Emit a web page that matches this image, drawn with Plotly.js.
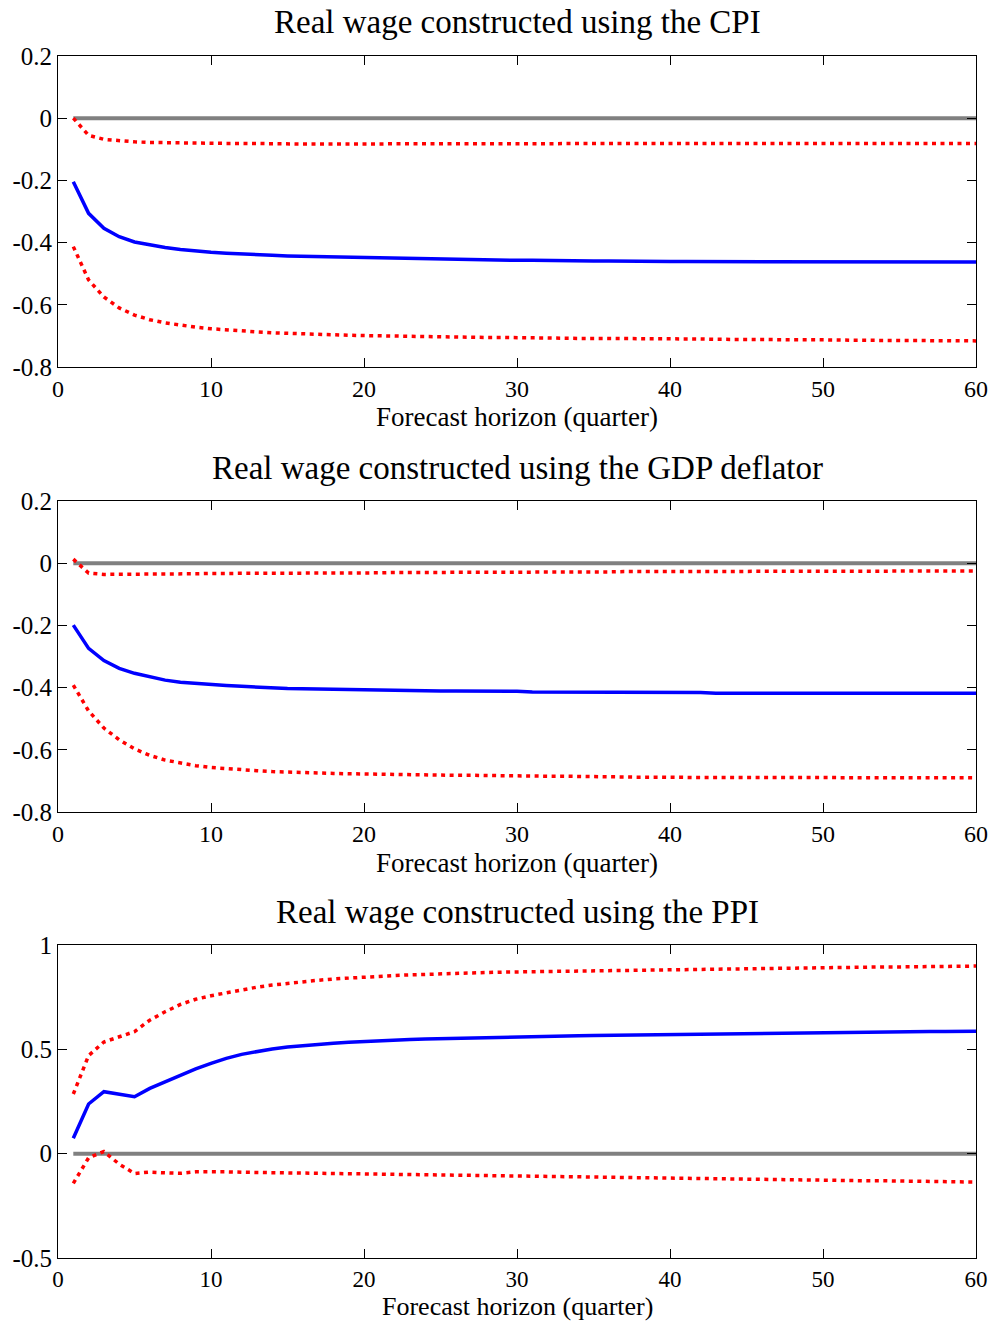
<!DOCTYPE html>
<html><head><meta charset="utf-8">
<script src="https://cdn.plot.ly/plotly-3.0.1.min.js"></script>
<style>html,body{margin:0;padding:0;background:#fff}#chart{width:996px;height:1321px}</style>
</head><body><div id="chart"></div>
<script>
const horizon = [1,2,3,4,5,6,7,8,9,10,11,12,13,14,15,16,17,18,19,20,21,22,23,24,25,26,27,28,29,30,31,32,33,34,35,36,37,38,39,40,41,42,43,44,45,46,47,48,49,50,51,52,53,54,55,56,57,58,59,60];

const titles = ["Real wage constructed using the CPI","Real wage constructed using the GDP deflator","Real wage constructed using the PPI"];
const xTitle = "Forecast horizon (quarter)";

const cpiMid = [-0.204,-0.306,-0.354,-0.381,-0.398,-0.408,-0.416,-0.422,-0.427,-0.431,-0.434,-0.437,-0.439,-0.441,-0.443,-0.444,-0.446,-0.447,-0.448,-0.449,-0.450,-0.451,-0.452,-0.453,-0.453,-0.454,-0.455,-0.456,-0.456,-0.457,-0.457,-0.458,-0.458,-0.459,-0.459,-0.459,-0.460,-0.460,-0.460,-0.461,-0.461,-0.461,-0.461,-0.461,-0.462,-0.462,-0.462,-0.462,-0.462,-0.462,-0.462,-0.462,-0.462,-0.462,-0.462,-0.462,-0.462,-0.462,-0.462,-0.462];
const cpiUp = [0.000,-0.055,-0.068,-0.073,-0.076,-0.078,-0.079,-0.080,-0.080,-0.081,-0.081,-0.081,-0.082,-0.082,-0.082,-0.083,-0.083,-0.084,-0.083,-0.083,-0.082,-0.082,-0.082,-0.082,-0.082,-0.082,-0.082,-0.082,-0.082,-0.082,-0.082,-0.082,-0.082,-0.082,-0.082,-0.082,-0.082,-0.082,-0.082,-0.082,-0.082,-0.082,-0.082,-0.082,-0.082,-0.082,-0.082,-0.082,-0.082,-0.082,-0.082,-0.082,-0.082,-0.082,-0.082,-0.081,-0.081,-0.081,-0.081,-0.081];
const cpiLo = [-0.413,-0.520,-0.575,-0.610,-0.633,-0.648,-0.658,-0.666,-0.672,-0.677,-0.681,-0.684,-0.687,-0.690,-0.692,-0.694,-0.695,-0.697,-0.698,-0.699,-0.700,-0.701,-0.702,-0.702,-0.703,-0.703,-0.704,-0.705,-0.705,-0.706,-0.706,-0.707,-0.707,-0.708,-0.708,-0.708,-0.709,-0.709,-0.709,-0.710,-0.710,-0.710,-0.711,-0.711,-0.711,-0.712,-0.712,-0.712,-0.713,-0.713,-0.713,-0.714,-0.714,-0.714,-0.715,-0.715,-0.715,-0.716,-0.716,-0.716];

const gdpMid = [-0.199,-0.274,-0.313,-0.338,-0.354,-0.366,-0.376,-0.383,-0.387,-0.390,-0.393,-0.396,-0.399,-0.401,-0.403,-0.404,-0.405,-0.406,-0.407,-0.408,-0.409,-0.409,-0.410,-0.410,-0.411,-0.411,-0.411,-0.412,-0.412,-0.412,-0.414,-0.414,-0.414,-0.415,-0.415,-0.415,-0.415,-0.416,-0.416,-0.416,-0.416,-0.416,-0.418,-0.418,-0.418,-0.418,-0.418,-0.418,-0.418,-0.418,-0.418,-0.418,-0.418,-0.418,-0.418,-0.418,-0.418,-0.418,-0.418,-0.418];
const gdpUp = [0.013,-0.032,-0.036,-0.036,-0.036,-0.036,-0.035,-0.035,-0.034,-0.033,-0.033,-0.033,-0.032,-0.032,-0.032,-0.032,-0.031,-0.031,-0.031,-0.031,-0.031,-0.030,-0.030,-0.030,-0.030,-0.030,-0.029,-0.029,-0.029,-0.029,-0.029,-0.028,-0.028,-0.028,-0.028,-0.028,-0.027,-0.027,-0.027,-0.027,-0.027,-0.027,-0.027,-0.026,-0.026,-0.026,-0.026,-0.026,-0.026,-0.026,-0.026,-0.026,-0.025,-0.025,-0.025,-0.025,-0.025,-0.025,-0.025,-0.025];
const gdpLo = [-0.392,-0.475,-0.530,-0.568,-0.597,-0.618,-0.633,-0.643,-0.651,-0.657,-0.661,-0.664,-0.667,-0.670,-0.672,-0.674,-0.675,-0.676,-0.677,-0.678,-0.679,-0.679,-0.680,-0.681,-0.681,-0.682,-0.682,-0.683,-0.683,-0.684,-0.684,-0.685,-0.685,-0.686,-0.686,-0.687,-0.687,-0.688,-0.688,-0.689,-0.689,-0.689,-0.689,-0.689,-0.689,-0.689,-0.690,-0.690,-0.690,-0.690,-0.690,-0.690,-0.690,-0.690,-0.690,-0.690,-0.690,-0.690,-0.690,-0.690];

const ppiMid = [0.074,0.238,0.297,0.286,0.273,0.313,0.345,0.377,0.406,0.433,0.457,0.476,0.491,0.502,0.511,0.518,0.524,0.529,0.534,0.538,0.541,0.544,0.547,0.549,0.551,0.553,0.555,0.557,0.558,0.560,0.561,0.562,0.564,0.565,0.566,0.567,0.568,0.569,0.570,0.572,0.573,0.574,0.575,0.576,0.576,0.577,0.578,0.578,0.579,0.580,0.581,0.581,0.582,0.583,0.583,0.584,0.585,0.585,0.586,0.587];
const ppiUp = [0.286,0.470,0.535,0.560,0.585,0.640,0.680,0.715,0.740,0.757,0.772,0.786,0.798,0.808,0.817,0.824,0.831,0.837,0.842,0.847,0.851,0.854,0.857,0.860,0.862,0.864,0.866,0.868,0.870,0.871,0.872,0.874,0.875,0.877,0.878,0.880,0.881,0.882,0.884,0.885,0.886,0.886,0.887,0.888,0.889,0.889,0.890,0.891,0.891,0.892,0.893,0.893,0.894,0.895,0.895,0.896,0.897,0.897,0.898,0.899];
const ppiLo = [-0.142,-0.020,0.010,-0.050,-0.095,-0.088,-0.092,-0.094,-0.087,-0.085,-0.087,-0.089,-0.090,-0.092,-0.093,-0.094,-0.095,-0.097,-0.098,-0.100,-0.101,-0.102,-0.103,-0.104,-0.105,-0.106,-0.107,-0.108,-0.109,-0.110,-0.111,-0.112,-0.113,-0.114,-0.115,-0.116,-0.117,-0.118,-0.119,-0.120,-0.121,-0.121,-0.122,-0.123,-0.123,-0.124,-0.125,-0.125,-0.126,-0.127,-0.128,-0.129,-0.130,-0.130,-0.131,-0.132,-0.133,-0.134,-0.135,-0.136];

const zeroLine = [0,0,0,0,0,0,0,0,0,0,0,0,0,0,0,0,0,0,0,0,0,0,0,0,0,0,0,0,0,0,0,0,0,0,0,0,0,0,0,0,0,0,0,0,0,0,0,0,0,0,0,0,0,0,0,0,0,0,0,0];

const panels = [
  {mid: cpiMid, up: cpiUp, lo: cpiLo, range: [-0.8, 0.2], tv: [-0.8,-0.6,-0.4,-0.2,0,0.2], tt: ["-0.8","-0.6","-0.4","-0.2","0","0.2"]},
  {mid: gdpMid, up: gdpUp, lo: gdpLo, range: [-0.8, 0.2], tv: [-0.8,-0.6,-0.4,-0.2,0,0.2], tt: ["-0.8","-0.6","-0.4","-0.2","0","0.2"]},
  {mid: ppiMid, up: ppiUp, lo: ppiLo, range: [-0.5, 1], tv: [-0.5,0,0.5,1], tt: ["-0.5","0","0.5","1"]}
];
const xTickVals = [0,10,20,30,40,50,60];
const xTickText = ["0","10","20","30","40","50","60"];

const H = 1321;
const plotTops = [56, 501, 945];
const plotBots = [367, 812, 1258];
const titleY = [22, 468, 912];
const xTitleY = [417, 863, 1306];

const traces = [];
const layout = {
  width: 996, height: 1321,
  margin: {l: 58, r: 20, t: 0, b: 0},
  paper_bgcolor: "#fff", plot_bgcolor: "#fff",
  showlegend: false,
  font: {family: "Liberation Serif, Times New Roman, serif", size: 25, color: "#000"},
  annotations: []
};

panels.forEach((p, i) => {
  const n = i + 1;
  const xa = n === 1 ? "x" : "x" + n;
  const ya = n === 1 ? "y" : "y" + n;
  traces.push({x: horizon, y: zeroLine, xaxis: xa, yaxis: ya, mode: "lines", line: {color: "#808080", width: 4}, hoverinfo: "skip"});
  traces.push({x: horizon, y: p.up, xaxis: xa, yaxis: ya, mode: "lines", line: {color: "#ff0000", width: 3.5, dash: "4px,4.5px"}});
  traces.push({x: horizon, y: p.lo, xaxis: xa, yaxis: ya, mode: "lines", line: {color: "#ff0000", width: 3.5, dash: "4px,4.5px"}});
  traces.push({x: horizon, y: p.mid, xaxis: xa, yaxis: ya, mode: "lines", line: {color: "#0000ff", width: 3.5}});
  const dom = [1 - plotBots[i] / H, 1 - plotTops[i] / H];
  const axCommon = {showgrid: false, zeroline: false, showline: true, linecolor: "#000", linewidth: 1, mirror: "ticks", ticks: "inside", ticklen: 9, tickcolor: "#000", tickfont: {size: 25}};
  layout[n === 1 ? "xaxis" : "xaxis" + n] = Object.assign({}, axCommon, {anchor: ya, domain: [0, 1], range: [0, 60], tickvals: xTickVals, ticktext: xTickText, ticklabelstandoff: 0, tickfont: {size: n === 3 ? 23 : 24}});
  layout[n === 1 ? "yaxis" : "yaxis" + n] = Object.assign({}, axCommon, {anchor: xa, domain: dom, range: p.range, tickvals: p.tv, ticktext: p.tt});
  layout.annotations.push({text: titles[i], xref: "paper", yref: "paper", x: 0.5, y: 1 - titleY[i] / H, xanchor: "center", yanchor: "middle", showarrow: false, font: {size: 33}});
  layout.annotations.push({text: xTitle, xref: "paper", yref: "paper", x: 0.5, y: 1 - xTitleY[i] / H, xanchor: "center", yanchor: "middle", showarrow: false, font: {size: n === 3 ? 26 : 27}});
});

Plotly.newPlot("chart", traces, layout, {displayModeBar: false, staticPlot: true});
</script></body></html>
